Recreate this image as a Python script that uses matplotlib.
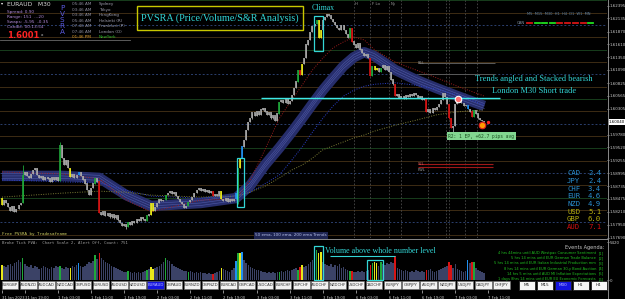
import matplotlib
matplotlib.use("Agg")
import matplotlib.pyplot as plt
from matplotlib.patches import Rectangle

W, H = 625, 299

# ---- price data (EURAUD M30), one close per bar ----
first_open = 1.5849
closes = [
    1.5835, 1.5845, 1.5839, 1.5831, 1.5823, 1.5833, 1.5821, 1.5827, 1.5835, 1.5839,
    1.5896, 1.5902, 1.5894, 1.5890, 1.5898, 1.5906, 1.5910, 1.5896, 1.5890, 1.5894,
    1.5886, 1.5892, 1.5888, 1.5882, 1.5890, 1.5886, 1.5892, 1.5884,
    1.5955, 1.5930,
    1.5916, 1.5926, 1.5910, 1.5892, 1.5898, 1.5890, 1.5896, 1.5902, 1.5894, 1.5886,
    1.5878, 1.5865, 1.5855, 1.5869, 1.5878, 1.5888, 1.5882, 1.5819, 1.5815, 1.5821,
    1.5813, 1.5817, 1.5810, 1.5815, 1.5808, 1.5813, 1.5804, 1.5798, 1.5792, 1.5796,
    1.5790, 1.5800, 1.5794, 1.5802, 1.5798, 1.5806, 1.5802, 1.5810, 1.5806, 1.5802,
    1.5813, 1.5815, 1.5839, 1.5823, 1.5831, 1.5839, 1.5847, 1.5843, 1.5845, 1.5855,
    1.5859, 1.5863, 1.5857, 1.5861, 1.5853, 1.5847, 1.5841, 1.5837, 1.5829, 1.5833,
    1.5841, 1.5845, 1.5851, 1.5859, 1.5865, 1.5869, 1.5863, 1.5867, 1.5861, 1.5865,
    1.5859, 1.5863, 1.5853, 1.5857, 1.5853, 1.5863, 1.5847, 1.5843, 1.5849, 1.5841,
    1.5847, 1.5843, 1.5847, 1.5859, 1.5910, 1.5930, 1.5953, 1.5967, 1.5987, 1.6003,
    1.6011, 1.6022, 1.6016, 1.6024, 1.6018, 1.6028, 1.6032, 1.6024, 1.6018, 1.6022,
    1.6011, 1.6016, 1.6005, 1.6020, 1.6044, 1.6048, 1.6042, 1.6050, 1.6040, 1.6046,
    1.6058, 1.6072, 1.6085, 1.6109, 1.6099, 1.6121, 1.6133, 1.6160, 1.6170, 1.6186,
    1.6198, 1.6202, 1.6210, 1.6174, 1.6190, 1.6210, 1.6216, 1.6221, 1.6219, 1.6212,
    1.6206, 1.6200, 1.6194, 1.6190, 1.6200, 1.6190, 1.6182, 1.6174, 1.6194, 1.6166,
    1.6160, 1.6154, 1.6162, 1.6150, 1.6143, 1.6137, 1.6141, 1.6133, 1.6097, 1.6117,
    1.6109, 1.6113, 1.6105, 1.6113, 1.6119, 1.6109, 1.6117, 1.6105, 1.6089, 1.6080,
    1.6056, 1.6060, 1.6052, 1.6056, 1.6050, 1.6058, 1.6054, 1.6060, 1.6056, 1.6062,
    1.6058, 1.6052, 1.6056, 1.6048, 1.6052, 1.6024, 1.6028, 1.6022, 1.6032, 1.6028,
    1.6034, 1.6040, 1.6048, 1.6062, 1.6054, 1.6040, 1.6011, 1.5991, 1.5995, 1.6040,
    1.6048, 1.6052, 1.6042, 1.6036, 1.6038, 1.6030, 1.6024, 1.6014, 1.6026, 1.6020,
    1.6011, 1.6007, 1.6005, 1.6003,
]
volumes = [
    2150, 2000, 1860, 2150, 2290, 2000, 2430, 2570, 2860, 2570,
    3150,
    2290, 2000, 1860, 2150, 1720, 2000, 1860, 1570, 1720, 2000, 1860, 1720, 1570, 1860, 1720, 2000, 1860,
    2000,
    1720, 1570, 1860, 1720, 1720, 2000, 1860, 2150, 2430, 2000, 1860,
    2000, 2290, 2570, 2430, 2720, 3580, 3000, 3860,
    3150, 2860, 2570, 2430, 2290, 2000, 1860, 1720, 1570, 1430, 1290, 1140, 1140,
    1290,
    1140, 1000, 1140, 1000, 1140, 1000, 1140, 1290,
    1430, 1570, 1860, 1570, 1720, 1860, 2000, 2290, 2570, 3150,
    2860, 2720, 2290, 2000, 1860, 1720, 1570, 1430, 1290, 1290,
    1140, 1290, 1140, 1000, 1140, 1000, 1140, 1000, 1000, 860, 1000, 860,
    860, 1000, 1140, 1290, 1720, 1570, 1430, 1290, 1140, 1430, 1720,
    2720, 3860, 3860, 4000,
    2860, 2430, 2150, 1860, 1720, 1570, 1430, 1430, 1290, 1140, 1140, 1000, 1140, 1000, 1140, 1000, 1140,
    1140, 1290, 1140, 1290, 1430, 1290, 1430, 1570, 1720, 1430, 1860, 2150,
    1860, 2000, 2290, 2570, 2860, 4000, 4290, 3860, 4000,
    2570, 2290, 2150, 2000, 2290, 1860, 2150, 2000, 2290, 1720, 1860,
    1570, 1430, 1290, 1290, 1140, 1140, 1290, 1140, 1290, 1140, 1290, 1430,
    2150, 2430, 2570, 2430, 2000, 2570, 2290, 2150, 2430, 2290, 2570, 2430,
    3430, 1720, 1570, 1430, 1290, 1430, 1290, 1140, 1290, 1140, 1430, 1290, 1140, 1290, 1140,
    1430, 1430, 1570, 1290, 1140, 1290, 1430, 1570, 1720, 1860, 2000, 2570, 2150, 1720, 2290,
    1570, 1430, 1290, 1140, 1290, 2860, 2430, 2570, 2570, 1720, 1430, 1290, 1140, 1000,
]
# PVSRA colouring of the special bars (candle and volume share it)
bar_colors = {0: 'y', 10: 'g', 28: 'g', 33: 'y', 37: 'b', 45: 'g', 47: 'r', 61: 'g', 70: 'g',
              72: 'y', 73: 'y', 79: 'g', 90: 'g', 102: 'r', 106: 'y', 113: 'b', 114: 'g',
              115: 'y', 116: 'b', 134: 'g', 143: 'g', 144: 'r', 145: 'y', 152: 'g', 153: 'y',
              154: 'y', 168: 'g', 169: 'r', 178: 'r', 179: 'g', 180: 'y', 181: 'y', 183: 'g',
              190: 'r', 205: 'r', 216: 'r', 217: 'r', 225: 'b', 227: 'r', 228: 'g'}
wicks = {10: (1.5916, None), 28: (1.5963, None), 60: (None, 1.5786), 114: (None, 1.5837),
         157: (1.6223, None), 218: (None, 1.5983)}

# moving averages, sampled at these bars
ema_at = [0, 29, 47, 60, 72, 96, 113, 120, 127, 134, 140, 145, 150, 155, 160, 165,
          170, 175, 180, 190, 200, 210, 220, 233]
band_mid = [1.5894, 1.5894, 1.5890, 1.5855, 1.5833, 1.5839, 1.5849, 1.5875, 1.5916, 1.5951,
            1.5983, 1.6011, 1.6040, 1.6068, 1.6093, 1.6117, 1.6135, 1.6145, 1.6137, 1.6109,
            1.6089, 1.6072, 1.6056, 1.6036]
ema_red = [1.5902, 1.5898, 1.5888, 1.5845, 1.5821, 1.5845, 1.5847, 1.5886, 1.5947, 1.6011,
           1.6048, 1.6078, 1.6109, 1.6133, 1.6154, 1.6166, 1.6176, 1.6170, 1.6150, 1.6125,
           1.6109, 1.6093, 1.6076, 1.6056]
ema_blue = [1.5886, 1.5882, 1.5880, 1.5865, 1.5853, 1.5849, 1.5853, 1.5861, 1.5878, 1.5896,
            1.5926, 1.5953, 1.5983, 1.6011, 1.6036, 1.6056, 1.6068, 1.6076, 1.6080, 1.6083,
            1.6078, 1.6070, 1.6058, 1.6038]
ema_olive = [1.5851, 1.5859, 1.5863, 1.5861, 1.5855, 1.5851, 1.5853, 1.5861, 1.5873, 1.5890,
             1.5906, 1.5916, 1.5930, 1.5947, 1.5955, 1.5963, 1.5971, 1.5977, 1.5985, 1.5997,
             1.6007, 1.6018, 1.6024, 1.6028]

price_ticks = [1.62395, 1.62135, 1.61870, 1.61610, 1.61350, 1.61090, 1.60825, 1.60565,
               1.60305, 1.59780, 1.59520, 1.59255, 1.58995, 1.58735, 1.58475,
               1.58210, 1.57950, 1.57690]
last_price = 1.60040
levels = [1.5775, 1.5800, 1.5825, 1.5850, 1.5875, 1.5900, 1.5925, 1.5950, 1.5975, 1.6000,
          1.6025, 1.6050, 1.6075, 1.6100, 1.6125, 1.6150, 1.6175, 1.6200, 1.6225, 1.6250]

time_ticks = [0, 11, 27, 43, 59, 75, 91, 107, 123, 139, 155, 171, 187, 203, 219, 235]
time_labels = ["31 Jan 2023", "31 Jan 19:00", "1 Feb 03:00", "1 Feb 11:00", "1 Feb 19:00",
               "2 Feb 03:00", "2 Feb 11:00", "2 Feb 19:00", "3 Feb 03:00", "3 Feb 11:00",
               "3 Feb 19:00", "6 Feb 03:00", "6 Feb 11:00", "6 Feb 19:00", "7 Feb 03:00",
               "7 Feb 11:00"]

# session open markers (bar index, label)
session_bars = [170, 178, 187, 193, 206, 214.5, 216, 223.7, 229.5]
session_tags = {170: "H", 178: "F Lo", 187: "Ny"}

symbols = ["EURGBP", "AUDNZD", "AUDCAD", "NZDCAD", "GBPUSD", "EURUSD", "AUDUSD", "NZDUSD",
           "EURAUD", "GBPAUD", "EURNZD", "GBPNZD", "EURCAD", "GBPCAD", "USDCAD", "EURCHF",
           "GBPCHF", "AUDCHF", "NZDCHF", "USDCHF", "CADCHF", "EURJPY", "GBPJPY", "AUDJPY",
           "NZDJPY", "USDJPY", "CADJPY", "CHFJPY"]
timeframes = ["M5", "M15", "M30", "H1", "H4"]
strength_ccy = ["CAD", "JPY", "CHF", "EUR", "NZD", "USD", "GBP", "AUD"]
strength_val = [2.4, 2.4, 3.4, 4.6, 4.9, 5.1, 6.0, 7.1]
session_times = ["05:46 AM", "03:46 AM", "03:46 AM", "05:46 AM", "07:46 AM", "07:46 AM", "01:46 PM"]
session_names = ["Sydney", "Tokyo", "HongKong", "Helsinki (R)", "Frankfurt (P)", "London (O)", "NewYork"]
events = ["4 hrs 44mins until AUD Westpac Consumer Sentiment",
          "5 hrs 14 mins until EUR German Trade Balance",
          "5 hrs 14 mins until EUR Italian Industrial Production mm",
          "8 hrs 14 mins until EUR German 30-y Bond Auction",
          "14 hrs 5 mins until AUD MI Inflation Expectations",
          "1 days 8hrs 14 mins until EUR EU Economic Forecasts"]

CMAP = {'g': '#1fa83a', 'r': '#d81414', 'b': '#2090f0', 'y': '#e8e81a'}
CANDLE = '#a8a8a8'
VOL = '#3b4266'
CYAN = '#33d6d6'


def T(x, y, s, **kw):
    # text placed in figure pixels (origin top-left)
    kw.setdefault('va', 'center')
    return fig.text(x / W, 1 - y / H, s, **kw)


fig = plt.figure(figsize=(W / 100, H / 100), dpi=100, facecolor='black')
ax = fig.add_axes([0, 1 - 238 / H, 607 / W, 238 / H])
axv = fig.add_axes([0, 1 - 290 / H, 607 / W, 51 / H])
for a in (ax, axv):
    a.set_facecolor('black')
    a.set_xlim(-0.97, 292.3)
    for s in a.spines.values():
        s.set_visible(False)
ax.set_ylim(1.5768, 1.6251)
axv.set_ylim(-1426, 5848)

# round number levels
for lv in levels:
    k = round(lv * 10000) % 100
    if k == 0:
        ax.axhline(lv, color='#2b3f6e', lw=0.7, ls=(0, (2, 2)), zorder=0)
    elif k == 50:
        ax.axhline(lv, color='#173d1c', lw=0.7, zorder=0)
    elif k in (25, 75):
        ax.axhline(lv, color='#3d2c14', lw=0.7, zorder=0)
    else:
        ax.axhline(lv, color='#1f2c4e', lw=0.7, zorder=0)

# session dividers
for xb in session_bars:
    ax.axvline(xb, color='#4a4a4a', lw=0.6, ls=(0, (2, 2)), zorder=0)
    if xb in session_tags:
        ax.text(xb + 0.6, 1.6243, session_tags[xb], fontsize=2.8, color='#9a9a9a',
                va='center', zorder=6)

# EMA ribbon
ax.plot(ema_at, band_mid, color='#272e6c', lw=7.5, solid_capstyle='butt', zorder=2)
for off in (-0.0005, 0.0, 0.0005):
    ax.plot(ema_at, [v + off for v in band_mid], color='#4b55a2', lw=0.45, zorder=2)
ax.plot(ema_at, ema_red, color='#9a1c1c', lw=0.7, ls=(0, (1, 1.5)), zorder=2)
ax.plot(ema_at, ema_blue, color='#2c40c8', lw=0.7, ls=(0, (1, 1.5)), zorder=2)
ax.plot(ema_at, ema_olive, color='#7c7c34', lw=0.7, ls=(0, (1, 1.5)), zorder=2)

# candles
prev = first_open
for i, c in enumerate(closes):
    o = prev
    hi, lo = max(o, c), min(o, c)
    if i in wicks:
        wh, wl = wicks[i]
        if wh is not None:
            hi = max(hi, wh)
        if wl is not None:
            lo = min(lo, wl)
    col = CMAP.get(bar_colors.get(i, ''), CANDLE)
    ax.vlines(i, lo - 0.00005, hi + 0.00005, color=col, lw=0.6, zorder=4)
    ax.vlines(i, min(o, c), max(o, c) + 0.00008, color=col, lw=1.2, zorder=4)
    prev = c

# volume bars
vcols = [CMAP.get(bar_colors.get(i, ''), VOL) for i in range(len(volumes))]
axv.bar(range(len(volumes)), volumes, width=0.75, color=vcols, zorder=2)

# axes ticks
ax.yaxis.tick_right()
ax.set_yticks(price_ticks)
ax.set_yticklabels(['%.5f' % p for p in price_ticks])
ax.tick_params(axis='y', labelsize=2.9, colors='#c8c8c8', length=1.2, pad=0.6, width=0.5)
ax.set_xticks([])
axv.yaxis.tick_right()
axv.set_yticks([0, 5420])
axv.set_yticklabels(['0', '5420'])
axv.tick_params(axis='y', labelsize=2.9, colors='#c8c8c8', length=1.2, pad=0.6, width=0.5)
axv.set_xticks(time_ticks)
axv.set_xticklabels(time_labels, ha='left')
axv.tick_params(axis='x', labelsize=2.7, colors='#c8c8c8', length=2, pad=2.2, width=0.5)

# last price box
ax.text(1.003, last_price, '%.5f' % last_price, transform=ax.get_yaxis_transform(),
        fontsize=2.9, color='black', va='center', ha='left',
        bbox=dict(boxstyle='square,pad=0.25', fc='white', ec='none'), clip_on=False, zorder=9)

# frame lines
fig.add_artist(plt.Line2D([607.5 / W] * 2, [0, 1], color='#8a8a8a', lw=0.7))
fig.add_artist(plt.Line2D([0, 607.5 / W], [1 - 238.5 / H] * 2, color='#8a8a8a', lw=0.7))
fig.add_artist(plt.Line2D([0, 130 / W], [1 - 40 / H] * 2, color='#6a6a6a', lw=0.6))

# ---- main chart annotations ----
ax.add_patch(Rectangle((113.5, 1.5831), 3.4, 0.0099, fill=False, ec=CYAN, lw=0.9, zorder=6))
ax.add_patch(Rectangle((150.7, 1.6147), 4.4, 0.0072, fill=False, ec=CYAN, lw=0.9, zorder=6))
ax.hlines(1.6053, 125.1, 240.6, color='#3ee8e8', lw=1.0, zorder=5)
ax.scatter([220.3], [1.6050], s=22, fc='#ff7070', ec='white', lw=0.8, zorder=7)
ax.scatter([231.9], [1.5997], s=22, fc='#ff9a00', ec='#e02020', lw=0.8, zorder=7)
ax.scatter([234.6], [1.6003], s=2, c='#ff2020', zorder=7)
ax.hlines([1.5918, 1.5912], 201, 237.2, color='#a01818', lw=0.8, zorder=3)
ax.text(201, 1.5915, 'S2L', fontsize=2.6, color='#d06060', va='bottom', zorder=6)
ax.text(201, 1.5911, 'PWL', fontsize=2.6, color='#a0a0a0', va='top', zorder=6)
ax.hlines([1.6123, 1.6101], 201, 238.2, color='#5a5a5a', lw=0.7, zorder=3)
ax.text(201, 1.6124, 'R5L', fontsize=2.6, color='#909090', va='center', zorder=6)
ax.text(231.6, 1.5975, 'R2: 1 EP, +62.7 pips avg', fontsize=3.3, color='#1a5020',
        family='DejaVu Sans Mono', ha='center', va='center', zorder=8,
        bbox=dict(boxstyle='square,pad=0.3', fc='#82d690', ec='none'))

T(220, 18, 'PVSRA (Price/Volume/S&R Analysis)', family='Liberation Serif', fontsize=7.3,
  color=CYAN, ha='center')
fig.add_artist(Rectangle((137 / W, 1 - 30 / H), 166 / W, 24 / H, fill=False, ec='#c8c800', lw=1.0))
T(323, 8, 'Climax', family='Liberation Serif', fontsize=5.6, color=CYAN, ha='center')
T(534, 79, 'Trends angled and Stacked bearish', family='Liberation Serif', fontsize=6.0,
  color=CYAN, ha='center')
T(534, 91, 'London M30 Short trade', family='Liberation Serif', fontsize=6.0,
  color=CYAN, ha='center')

# top-left info panel
T(1, 3, '\u25be', fontsize=3, color='white')
T(7, 5, 'EURAUD   M30', fontsize=4.3, color='#d8d8d8')
for k, s in enumerate(['Spread: 0.90', 'Range: 151  ...20', 'Swaps: -5.95  -0.35',
                       'Candle: 00:13:54']):
    T(7, 11.5 + 5.3 * k, s, fontsize=3.1, color='#b28ad8')
T(7, 35, '1.6001', fontsize=6, color='#ff2424', weight='bold')
T(41, 35.5, 'x', fontsize=3, color='#d0d0d0')
for k, ch in enumerate('PVSRA'):
    T(62, 8 + 6 * k, ch, fontsize=5.2, color='#5a5ae0', ha='center')
for k in range(len(session_times)):
    y = 4 + 5.55 * k
    last = k == len(session_times) - 1
    T(72, y, session_times[k], fontsize=3.0, color='#e0a030' if last else '#9090a0')
    T(99, y, session_names[k], fontsize=3.0, color='#30c030' if last else '#a0a0b0')

# multi timeframe trend dashes
T(517, 23, 'CAN', fontsize=2.8, color='#8090a0')
T(527, 14, 'M5  M15  M30  H1  H4  D1  W1  MN', fontsize=2.6, color='#6080a0')
for xd, cd in zip([527, 534.5, 542, 549.5, 557, 565, 572.5, 580.5, 588],
                  'rgggrrrrg'):
    fig.add_artist(plt.Line2D([xd / W, (xd + 5) / W], [1 - 23 / H] * 2,
                              color=CMAP[cd] if cd == 'r' else '#20e020', lw=1.3))

# currency strength table
for k, (cc, vv) in enumerate(zip(strength_ccy, strength_val)):
    col = '#2a8fd0' if k < 5 else ('#b8b010' if k < 7 else '#d01010')
    T(567, 173.3 + 7.65 * k, cc, family='DejaVu Sans Mono', fontsize=5.2, color=col)
    T(588, 173.3 + 7.65 * k, '%.1f' % vv, family='DejaVu Sans Mono', fontsize=5.2, color=col)

# ---- volume panel annotations ----
T(2, 234.5, 'Free PVSRA by Tradesafname', family='DejaVu Sans Mono', fontsize=3.0, color='#d0d060')
T(291, 235.5, '50 ema, 100 ema, 200 ema Trends', fontsize=3.0, color='#b8c0e8', ha='center',
  bbox=dict(boxstyle='square,pad=0.4', fc='#1e2552', ec='none'))
T(2, 243, 'Broke Tick PVA:  Chart Scale 2, Alert Off, Count: 751', family='DejaVu Sans Mono',
  fontsize=2.9, color='#a0a0a0')
axv.add_patch(Rectangle((150.7, 0), 4.4, 4850, fill=False, ec=CYAN, lw=0.9, zorder=5))
axv.add_patch(Rectangle((176.3, 0), 7.8, 2850, fill=False, ec=CYAN, lw=0.9, zorder=5))
axv.hlines(3420, 158.5, 189.9, color=CYAN, lw=0.8, zorder=5)
T(325, 251, 'Volume above whole number level', family='Liberation Serif', fontsize=5.8,
  color=CYAN)
T(604, 247, 'Events Agenda:', fontsize=3.6, color='#c8c8c8', ha='right')
for k, ev in enumerate(events):
    y = 253 + 5.2 * k
    T(596, y, ev, fontsize=2.6, color='#20c020', ha='right')
    T(599, y, '[%d]' % (k + 1), fontsize=2.6, color='#20c020')

# symbol buttons
for k, sym in enumerate(symbols):
    x0 = 1.7 + 18.2 * k
    sel = sym == 'EURAUD'
    fig.add_artist(Rectangle((x0 / W, 1 - 289 / H), 16.6 / W, 8 / H,
                             fc='#1414e0' if sel else '#f2f2f2', ec='#707070', lw=0.4))
    T(x0 + 8.3, 285, sym, fontsize=2.8, color='#c0c0ff' if sel else '#303030', ha='center')
for k, tf in enumerate(timeframes):
    x0 = 518.5 + 18 * k
    sel = tf == 'M30'
    fig.add_artist(Rectangle((x0 / W, 1 - 290 / H), 16.5 / W, 9 / H,
                             fc='#1414e0' if sel else '#f6f6f6', ec='#202020', lw=0.6))
    T(x0 + 8.25, 285.5, tf, fontsize=3.0, color='#c0c0ff' if sel else '#202020', ha='center')

fig.savefig('out.png', dpi=100, facecolor='black')
